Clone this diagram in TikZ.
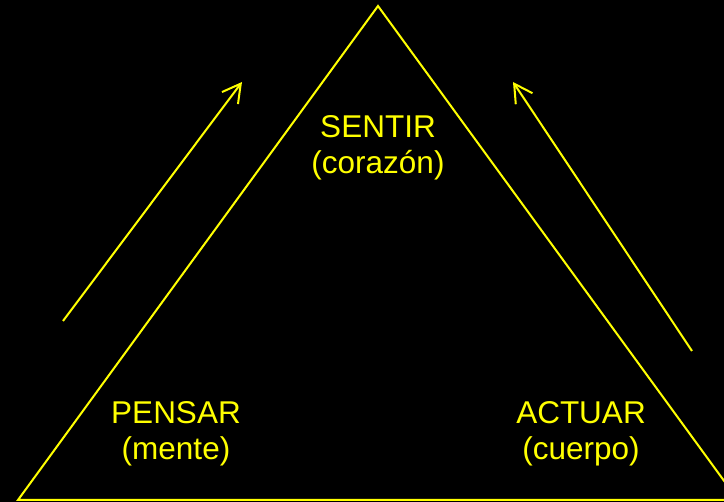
\documentclass[tikz,border=0pt]{standalone}
\usepackage{fontspec}
\setmainfont{Liberation Sans}
\usetikzlibrary{arrows.meta}
\definecolor{yel}{RGB}{255,255,0}
\begin{document}
\begin{tikzpicture}[x=1pt,y=-1pt,
  edge/.style={draw=yel,line width=2pt,line join=miter},
  flow/.style={draw=yel,line width=2pt,-{Straight Barb[length=18pt,width=20pt,line width=2pt]}},
  lbl/.style={text=yel,align=center,font=\fontsize{31.5}{36}\selectfont,inner sep=0pt}]
\fill[black] (0,0) rectangle (724,502);
\useasboundingbox (0,0) rectangle (724,502);
\clip (0,0) rectangle (724,502);
\coordinate (apex) at (378,6);
\coordinate (bl) at (18,500);
\coordinate (br) at (738,500);
\draw[edge] (apex) -- (br) -- (bl) -- cycle;
\coordinate (la) at (63,321);
\coordinate (lb) at (242,82);
\coordinate (ra) at (692,351);
\coordinate (rb) at (513,82);
\draw[flow] (la) -- (lb);
\draw[flow] (ra) -- (rb);
\node[lbl] (sentir) at (378,148) {SENTIR\\(corazón)};
\node[lbl] (pensar) at (176,434) {PENSAR\\(mente)};
\node[lbl] (actuar) at (581,434) {ACTUAR\\(cuerpo)};
\end{tikzpicture}
\end{document}
